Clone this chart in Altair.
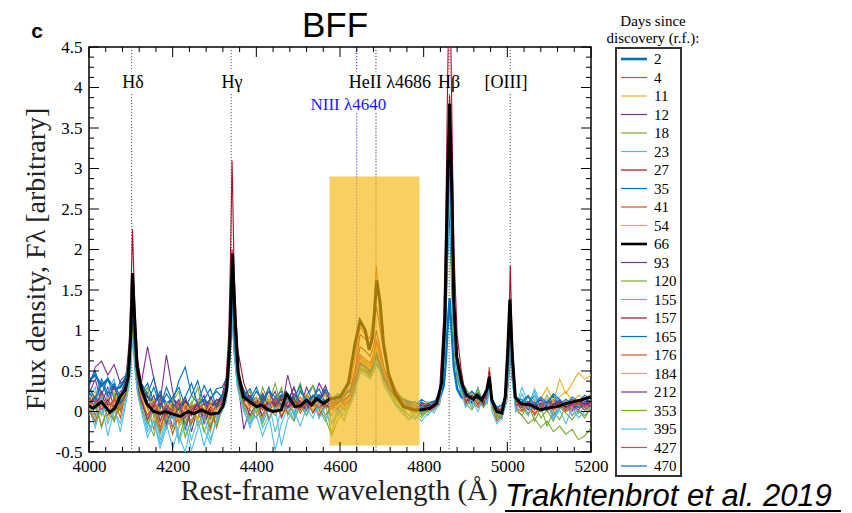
import altair as alt
import pandas as pd

# ---------------------------------------------------------------------------
# Wavelength grid (Angstrom), in stretches around each emission line
# ---------------------------------------------------------------------------
W_A = [4000, 4015, 4030, 4045, 4060, 4075, 4088]
W_HD = [4096, 4100, 4104, 4109, 4116]
W_B = [4125, 4140, 4155, 4170, 4185, 4200, 4215, 4230, 4245, 4260, 4275, 4290, 4305, 4318, 4328]
W_HG = [4334, 4338, 4342, 4347, 4355]
W_C = [4370, 4385, 4400, 4415, 4430, 4445, 4460, 4475, 4490, 4505, 4520, 4535, 4550, 4565, 4580, 4595, 4610, 4625]
W_HE = [4637, 4648, 4660, 4672, 4680, 4687, 4695, 4705, 4718, 4732, 4748, 4765, 4780, 4795, 4810, 4825, 4838]
W_HB = [4848, 4853, 4857, 4862, 4867, 4872, 4880, 4890]
W_D = [4900, 4915, 4930, 4943, 4952, 4957, 4963, 4975, 4987, 4997]
W_O3 = [5003, 5007, 5012, 5020]
W_E = [5035, 5050, 5065, 5080, 5095, 5110, 5125, 5140, 5155, 5170, 5185, 5200]
GRID = [W_A, W_HD, W_B, W_HG, W_C, W_HE, W_HB, W_D, W_O3, W_E]

# ---------------------------------------------------------------------------
# Continuum-subtracted spectra, one list per stretch of the grid
# ---------------------------------------------------------------------------
F_2 = [
    [0.38, 0.45, 0.32, 0.40, 0.28, 0.30, 0.42],
    [0.55, 0.78, 1.13, 0.72, 0.42],
    [0.28, 0.18, 0.12, 0.20, 0.10, 0.15, 0.08, 0.12, 0.05, 0.10, 0.14, 0.08, 0.12, 0.18, 0.30],
    [0.52, 0.92, 1.50, 0.85, 0.45],
    [0.25, 0.16, 0.12, 0.18, 0.10, 0.14, 0.20, 0.12, 0.16, 0.10, 0.18, 0.14, 0.20, 0.12, 0.15, 0.18, 0.22, 0.26],
    [0.34, 0.52, 0.50, 0.45, 0.52, 0.60, 0.52, 0.40, 0.30, 0.22, 0.16, 0.12, 0.10, 0.08, 0.10, 0.12, 0.15],
    [0.32, 0.62, 1.02, 1.40, 0.98, 0.55, 0.28, 0.18],
    [0.14, 0.18, 0.16, 0.12, 0.20, 0.32, 0.14, 0.04, 0.02, 0.12],
    [0.48, 0.95, 0.44, 0.12],
    [0.08, 0.06, 0.10, 0.04, 0.08, 0.12, 0.10, 0.08, 0.14, 0.12, 0.16, 0.18],
]
F_4 = [
    [0.15, -0.05, 0.22, 0.02, -0.12, 0.18, 0.30],
    [0.55, 0.88, 1.40, 0.85, 0.42],
    [0.25, 0.05, -0.22, 0.10, -0.08, 0.12, -0.15, 0.05, -0.05, 0.15, -0.10, 0.02, -0.18, 0.10, 0.28],
    [0.55, 1.02, 1.70, 0.95, 0.45],
    [0.20, 0.05, 0.12, -0.05, 0.15, 0.02, 0.20, 0.08, -0.02, 0.14, 0.05, 0.18, 0.02, 0.12, -0.05, 0.10, 0.15, 0.20],
    [0.42, 0.68, 0.62, 0.58, 0.70, 0.90, 0.72, 0.50, 0.34, 0.20, 0.10, 0.04, 0.02, -0.04, 0.06, 0.02, 0.10],
    [0.75, 1.55, 2.60, 3.60, 2.45, 1.32, 0.65, 0.35],
    [0.10, 0.22, 0.08, 0.15, 0.22, 0.45, 0.12, -0.08, -0.02, 0.15],
    [0.55, 1.10, 0.50, 0.10],
    [0.02, 0.10, -0.05, 0.08, 0.00, 0.12, 0.04, 0.08, 0.02, 0.10, 0.05, 0.12],
]
F_11 = [
    [0.05, 0.20, -0.02, 0.12, 0.25, 0.05, 0.28],
    [0.50, 0.82, 1.30, 0.78, 0.38],
    [0.20, -0.05, 0.08, -0.15, 0.02, -0.08, 0.12, -0.20, 0.05, -0.02, 0.10, -0.12, 0.05, 0.15, 0.25],
    [0.52, 0.98, 1.60, 0.90, 0.42],
    [0.15, 0.10, -0.02, 0.12, 0.05, 0.18, -0.05, 0.10, 0.20, 0.02, 0.12, 0.08, -0.02, 0.15, 0.10, 0.05, 0.12, 0.18],
    [0.38, 0.62, 0.58, 0.52, 0.64, 0.80, 0.66, 0.46, 0.30, 0.22, 0.12, 0.05, 0.08, 0.02, 0.10, 0.05, 0.12],
    [0.72, 1.50, 2.52, 3.50, 2.38, 1.28, 0.62, 0.33],
    [0.18, 0.12, 0.20, 0.08, 0.20, 0.40, 0.10, 0.02, -0.05, 0.12],
    [0.50, 1.00, 0.46, 0.08],
    [0.10, 0.02, 0.12, 0.06, 0.14, 0.00, 0.10, 0.15, 0.05, 0.12, 0.08, 0.14],
]
F_12 = [
    [0.30, 0.55, 0.62, 0.45, 0.58, 0.35, 0.40],
    [0.60, 0.90, 1.45, 0.88, 0.50],
    [0.35, 0.80, 0.40, 0.12, 0.70, 0.25, -0.10, 0.15, -0.25, 0.05, 0.20, -0.08, 0.10, 0.05, 0.22],
    [0.50, 0.98, 1.60, 0.88, 0.40],
    [-0.22, 0.05, 0.18, -0.10, 0.12, 0.25, 0.02, 0.45, 0.15, 0.05, 0.30, 0.12, 0.35, 0.20, 0.05, 0.15, 0.10, 0.22],
    [0.36, 0.60, 0.55, 0.50, 0.60, 0.75, 0.62, 0.44, 0.30, 0.18, 0.08, 0.12, 0.04, 0.10, 0.02, 0.08, 0.12],
    [0.62, 1.28, 2.16, 3.00, 2.05, 1.10, 0.54, 0.30],
    [0.12, 0.20, 0.10, 0.18, 0.15, 0.35, 0.12, 0.05, 0.00, 0.10],
    [0.48, 1.00, 0.45, 0.10],
    [0.05, 0.12, 0.02, 0.10, 0.05, 0.08, 0.15, 0.02, 0.10, 0.05, 0.12, 0.08],
]
F_18 = [
    [0.10, -0.15, 0.05, 0.20, -0.10, 0.12, 0.22],
    [0.45, 0.75, 1.20, 0.70, 0.30],
    [0.15, -0.12, -0.30, 0.05, -0.20, 0.10, -0.35, -0.05, 0.12, -0.18, 0.02, -0.25, 0.08, 0.12, 0.20],
    [0.45, 0.85, 1.40, 0.78, 0.35],
    [0.10, -0.15, 0.05, 0.22, -0.10, 0.08, 0.30, -0.05, 0.15, 0.35, 0.05, 0.20, -0.08, 0.10, -0.28, 0.05, -0.12, 0.15],
    [0.30, 0.55, 0.52, 0.46, 0.56, 0.70, 0.58, 0.40, 0.28, 0.15, 0.05, -0.05, 0.08, -0.02, 0.05, 0.10, 0.18],
    [0.80, 1.90, 2.60, 2.35, 1.45, 0.80, 0.40, 0.22],
    [0.22, 0.05, 0.25, 0.10, 0.15, 0.30, 0.08, -0.10, 0.05, 0.15],
    [0.45, 1.00, 0.42, 0.05],
    [-0.05, 0.10, -0.12, 0.05, -0.18, 0.00, -0.10, 0.08, -0.05, 0.02, -0.08, 0.05],
]
F_23 = [
    [0.05, -0.20, 0.10, -0.30, 0.02, -0.15, 0.15],
    [0.38, 0.62, 1.00, 0.60, 0.25],
    [0.05, -0.25, -0.10, -0.40, -0.15, -0.45, -0.20, -0.05, -0.35, -0.10, -0.42, -0.15, -0.05, 0.02, 0.18],
    [0.45, 0.92, 1.55, 0.85, 0.35],
    [0.05, -0.10, 0.08, -0.20, -0.05, -0.48, -0.15, 0.05, -0.10, 0.12, -0.05, 0.10, 0.02, -0.12, 0.08, -0.05, 0.05, 0.12],
    [0.30, 0.52, 0.48, 0.42, 0.52, 0.65, 0.52, 0.35, 0.22, 0.12, 0.02, -0.05, -0.10, 0.02, -0.05, 0.05, 0.10],
    [0.75, 1.55, 2.35, 2.70, 1.95, 1.05, 0.50, 0.25],
    [0.25, 0.10, 0.30, 0.05, 0.18, 0.28, 0.05, -0.05, -0.10, 0.15],
    [0.52, 1.00, 0.45, 0.05],
    [0.30, 0.10, 0.25, 0.05, 0.20, -0.05, 0.10, 0.02, 0.08, -0.02, 0.05, 0.10],
]
F_27 = [
    [0.15, 0.05, 0.18, 0.08, 0.12, 0.20, 0.40],
    [0.85, 1.42, 2.25, 1.35, 0.65],
    [0.35, 0.18, 0.05, 0.10, -0.05, 0.08, 0.02, 0.12, -0.02, 0.05, 0.10, 0.00, 0.08, 0.20, 0.42],
    [0.95, 1.85, 3.10, 1.70, 0.78],
    [0.35, 0.15, 0.10, 0.05, 0.12, 0.08, 0.15, 0.05, 0.10, 0.12, 0.08, 0.15, 0.10, 0.05, 0.12, 0.10, 0.18, 0.28],
    [0.55, 0.95, 0.90, 0.82, 1.00, 1.30, 1.05, 0.72, 0.45, 0.28, 0.15, 0.08, 0.05, 0.02, 0.08, 0.10, 0.25],
    [1.15, 2.40, 4.00, 5.60, 3.80, 2.02, 0.95, 0.50],
    [0.20, 0.15, 0.22, 0.12, 0.25, 0.50, 0.15, 0.02, 0.00, 0.20],
    [0.90, 1.80, 0.82, 0.15],
    [0.08, 0.05, 0.10, 0.02, 0.08, 0.05, 0.10, 0.06, 0.12, 0.08, 0.15, 0.12],
]
F_35 = [
    [0.35, 0.50, 0.20, 0.42, 0.15, 0.38, 0.45],
    [0.65, 0.85, 1.25, 0.80, 0.45],
    [0.35, 0.22, 0.42, 0.05, 0.30, 0.12, 0.38, 0.55, 0.20, 0.10, 0.32, 0.15, 0.28, 0.30, 0.40],
    [0.55, 1.00, 1.60, 0.92, 0.45],
    [0.20, 0.28, 0.10, 0.22, 0.05, 0.18, 0.25, 0.12, 0.30, 0.08, 0.20, 0.32, 0.15, 0.25, 0.10, 0.18, 0.22, 0.28],
    [0.40, 0.58, 0.55, 0.50, 0.58, 0.72, 0.60, 0.42, 0.30, 0.20, 0.12, 0.10, 0.05, 0.12, 0.06, 0.10, 0.18],
    [0.55, 1.08, 1.82, 2.50, 1.72, 0.92, 0.45, 0.25],
    [0.15, 0.25, 0.18, 0.10, 0.22, 0.38, 0.12, 0.00, 0.05, 0.25],
    [0.65, 1.25, 0.55, 0.12],
    [0.10, 0.18, 0.05, 0.15, 0.08, 0.20, 0.12, 0.05, 0.15, 0.10, 0.08, 0.15],
]
F_41 = [
    [-0.05, 0.12, -0.18, 0.05, 0.15, -0.08, 0.25],
    [0.55, 0.92, 1.50, 0.90, 0.40],
    [0.18, -0.10, 0.02, -0.25, 0.08, -0.05, 0.10, -0.15, 0.00, -0.08, 0.12, -0.20, 0.02, 0.08, 0.25],
    [0.58, 1.08, 1.80, 1.00, 0.45],
    [0.12, -0.05, 0.08, 0.15, -0.10, 0.05, 0.12, -0.02, 0.08, 0.18, 0.02, 0.10, -0.05, 0.08, 0.02, 0.12, 0.20, 0.35],
    [0.70, 1.05, 0.95, 0.90, 1.20, 1.80, 1.20, 0.75, 0.45, 0.25, 0.12, 0.05, 0.02, 0.00, 0.05, 0.08, 0.15],
    [0.80, 1.68, 2.82, 3.90, 2.65, 1.42, 0.68, 0.36],
    [0.12, 0.20, 0.08, 0.15, 0.28, 0.55, 0.15, -0.05, -0.08, 0.12],
    [0.60, 1.20, 0.55, 0.10],
    [0.05, -0.02, 0.08, 0.02, 0.10, -0.05, 0.05, 0.10, 0.00, 0.08, 0.02, 0.06],
]
F_54 = [
    [0.20, 0.02, 0.15, -0.10, 0.08, 0.22, 0.32],
    [0.58, 0.90, 1.40, 0.85, 0.42],
    [0.22, 0.02, -0.12, 0.08, -0.02, 0.15, -0.18, 0.02, 0.10, -0.10, 0.05, -0.05, 0.12, 0.10, 0.28],
    [0.55, 1.02, 1.70, 0.95, 0.45],
    [0.18, 0.08, 0.15, 0.02, 0.20, 0.10, 0.05, 0.18, 0.08, 0.12, 0.22, 0.05, 0.15, 0.08, 0.12, 0.18, 0.10, 0.20],
    [0.42, 0.70, 0.65, 0.58, 0.68, 0.85, 0.70, 0.50, 0.35, 0.22, 0.12, 0.08, 0.05, 0.10, 0.02, 0.08, 0.14],
    [0.76, 1.58, 2.68, 3.70, 2.52, 1.35, 0.66, 0.35],
    [0.15, 0.22, 0.10, 0.18, 0.20, 0.42, 0.10, 0.00, -0.02, 0.15],
    [0.55, 1.10, 0.50, 0.10],
    [0.12, 0.05, 0.15, 0.08, 0.20, 0.10, 0.18, 0.25, 0.12, 0.20, 0.15, 0.22],
]
F_93 = [
    [0.22, 0.40, 0.10, 0.30, 0.05, 0.25, 0.30],
    [0.52, 0.82, 1.30, 0.80, 0.40],
    [0.25, 0.05, 0.20, -0.12, 0.10, -0.20, 0.05, 0.18, -0.05, 0.12, -0.15, 0.05, 0.15, 0.10, 0.25],
    [0.50, 0.92, 1.50, 0.85, 0.40],
    [0.15, -0.05, 0.10, 0.22, 0.05, 0.15, -0.08, 0.12, 0.30, 0.05, 0.18, -0.02, 0.10, 0.25, 0.08, 0.02, 0.15, 0.20],
    [0.40, 0.62, 0.58, 0.52, 0.62, 0.75, 0.62, 0.45, 0.30, 0.18, 0.10, 0.05, 0.08, 0.00, 0.05, 0.12, 0.15],
    [0.66, 1.36, 2.30, 3.20, 2.18, 1.17, 0.57, 0.31],
    [0.10, 0.18, 0.12, 0.20, 0.18, 0.40, 0.10, 0.02, 0.05, 0.18],
    [0.50, 1.00, 0.45, 0.08],
    [0.10, 0.02, 0.12, 0.05, 0.08, 0.15, 0.05, 0.10, 0.02, 0.12, 0.08, 0.10],
]
F_120 = [
    [0.08, 0.20, -0.05, 0.15, 0.22, 0.02, 0.25],
    [0.48, 0.78, 1.20, 0.72, 0.35],
    [0.15, 0.30, -0.08, 0.20, -0.22, 0.12, 0.25, -0.15, 0.08, 0.30, -0.05, 0.15, -0.10, 0.12, 0.22],
    [0.48, 0.88, 1.45, 0.80, 0.38],
    [0.15, 0.25, -0.02, 0.30, 0.10, 0.35, 0.05, 0.20, -0.05, 0.28, 0.12, 0.32, 0.08, 0.22, -0.15, -0.05, 0.08, 0.15],
    [0.32, 0.55, 0.52, 0.48, 0.58, 0.70, 0.58, 0.40, 0.30, 0.15, 0.18, 0.05, 0.12, -0.05, 0.02, 0.10, 0.15],
    [0.62, 1.28, 2.16, 3.00, 2.05, 1.10, 0.54, 0.30],
    [0.30, 0.15, 0.28, 0.10, 0.18, 0.35, 0.08, -0.05, 0.02, 0.20],
    [0.48, 0.95, 0.42, 0.10],
    [0.05, -0.05, 0.10, -0.08, 0.02, -0.12, 0.05, -0.02, -0.10, 0.00, -0.05, 0.05],
]
F_155 = [
    [0.15, 0.30, -0.05, 0.25, 0.40, 0.10, 0.20],
    [0.42, 0.70, 1.10, 0.65, 0.28],
    [0.08, -0.20, 0.05, -0.35, -0.10, 0.02, -0.30, -0.50, -0.15, 0.05, -0.22, -0.40, -0.08, 0.05, 0.20],
    [0.42, 0.85, 1.40, 0.75, 0.30],
    [0.02, -0.20, 0.05, -0.10, 0.10, -0.25, 0.02, 0.15, -0.05, 0.10, 0.00, 0.18, -0.08, 0.05, 0.12, -0.02, 0.08, 0.15],
    [0.30, 0.50, 0.48, 0.42, 0.50, 0.65, 0.52, 0.36, 0.25, 0.10, 0.00, 0.05, -0.08, 0.00, 0.05, -0.02, 0.12],
    [0.58, 1.20, 2.02, 2.80, 1.90, 1.02, 0.50, 0.26],
    [0.18, 0.05, 0.20, 0.12, 0.10, 0.33, 0.05, -0.10, 0.00, 0.15],
    [0.45, 0.90, 0.40, 0.05],
    [0.22, 0.05, 0.28, 0.10, 0.15, -0.08, 0.05, 0.12, -0.05, 0.08, 0.02, 0.10],
]
F_157 = [
    [0.10, 0.18, 0.05, 0.15, 0.02, 0.12, 0.30],
    [0.62, 1.00, 1.60, 0.95, 0.45],
    [0.25, 0.08, -0.02, 0.10, 0.02, -0.08, 0.05, 0.12, 0.00, 0.08, -0.05, 0.05, 0.10, 0.15, 0.32],
    [0.65, 1.20, 2.00, 1.12, 0.52],
    [0.22, 0.10, 0.05, 0.12, 0.02, 0.10, 0.15, 0.05, 0.12, 0.08, 0.02, 0.10, 0.15, 0.08, 0.05, 0.12, 0.15, 0.22],
    [0.48, 0.80, 0.75, 0.68, 0.80, 1.00, 0.80, 0.55, 0.36, 0.22, 0.12, 0.08, 0.02, 0.05, 0.08, 0.05, 0.18],
    [0.80, 1.68, 2.82, 3.90, 2.65, 1.42, 0.68, 0.36],
    [0.15, 0.12, 0.20, 0.10, 0.25, 0.50, 0.15, 0.00, -0.02, 0.18],
    [0.70, 1.40, 0.62, 0.12],
    [0.08, 0.12, 0.05, 0.10, 0.02, 0.08, 0.12, 0.05, 0.10, 0.15, 0.08, 0.12],
]
F_165 = [
    [0.25, 0.10, 0.35, 0.18, 0.30, 0.12, 0.35],
    [0.52, 0.80, 1.20, 0.75, 0.40],
    [0.22, 0.35, 0.10, 0.25, 0.02, 0.18, 0.30, 0.05, 0.20, 0.38, 0.08, 0.15, 0.25, 0.18, 0.30],
    [0.52, 0.95, 1.50, 0.88, 0.42],
    [0.18, 0.10, 0.25, 0.12, 0.30, 0.05, 0.20, 0.15, 0.08, 0.25, 0.12, 0.18, 0.28, 0.10, 0.15, 0.22, 0.12, 0.20],
    [0.38, 0.58, 0.55, 0.50, 0.55, 0.68, 0.56, 0.40, 0.28, 0.18, 0.10, 0.12, 0.08, 0.15, 0.10, 0.05, 0.15],
    [0.62, 1.28, 2.16, 3.00, 2.05, 1.10, 0.54, 0.30],
    [0.20, 0.10, 0.22, 0.15, 0.18, 0.38, 0.10, 0.05, 0.08, 0.22],
    [0.68, 1.30, 0.58, 0.15],
    [0.15, 0.10, 0.20, 0.05, 0.12, 0.18, 0.08, 0.15, 0.10, 0.05, 0.12, 0.18],
]
F_176 = [
    [0.02, -0.12, 0.10, -0.05, 0.18, 0.00, 0.22],
    [0.48, 0.80, 1.30, 0.78, 0.35],
    [0.12, -0.05, 0.10, -0.20, 0.00, -0.28, -0.02, 0.08, -0.15, 0.05, -0.05, 0.10, -0.20, 0.05, 0.22],
    [0.50, 0.95, 1.60, 0.88, 0.40],
    [0.10, 0.02, -0.08, 0.10, 0.00, 0.12, -0.05, 0.05, 0.15, -0.02, 0.10, 0.00, 0.12, -0.05, 0.05, 0.10, 0.02, 0.15],
    [0.38, 0.65, 0.60, 0.55, 0.66, 0.85, 0.70, 0.48, 0.32, 0.18, 0.08, 0.02, -0.02, 0.05, 0.00, 0.05, 0.10],
    [0.70, 1.45, 2.45, 3.40, 2.32, 1.24, 0.60, 0.32],
    [0.08, 0.15, 0.05, 0.12, 0.20, 0.42, 0.08, -0.12, -0.05, 0.10],
    [0.52, 1.05, 0.48, 0.05],
    [0.00, 0.08, -0.02, 0.05, 0.10, 0.02, 0.08, 0.00, 0.05, 0.10, 0.02, 0.08],
]
F_184 = [
    [0.12, 0.25, 0.05, 0.18, -0.02, 0.15, 0.25],
    [0.45, 0.75, 1.20, 0.72, 0.35],
    [0.18, 0.05, 0.15, -0.05, 0.12, 0.02, -0.10, 0.10, 0.00, 0.15, -0.05, 0.08, 0.00, 0.12, 0.25],
    [0.48, 0.90, 1.50, 0.85, 0.40],
    [0.12, 0.05, 0.18, 0.08, 0.15, 0.00, 0.12, 0.20, 0.05, 0.10, 0.18, 0.02, 0.12, 0.20, 0.08, 0.15, 0.05, 0.18],
    [0.38, 0.62, 0.58, 0.52, 0.62, 0.78, 0.65, 0.48, 0.33, 0.20, 0.12, 0.08, 0.10, 0.05, 0.12, 0.08, 0.12],
    [0.68, 1.40, 2.38, 3.30, 2.25, 1.20, 0.58, 0.32],
    [0.15, 0.20, 0.12, 0.18, 0.25, 0.45, 0.15, 0.02, 0.05, 0.15],
    [0.50, 1.00, 0.45, 0.10],
    [0.12, 0.20, 0.08, 0.15, 0.30, 0.12, 0.40, 0.22, 0.35, 0.48, 0.40, 0.45],
]
F_212 = [
    [0.18, 0.05, 0.25, 0.10, 0.32, 0.08, 0.22],
    [0.42, 0.70, 1.10, 0.68, 0.32],
    [0.12, -0.10, 0.08, 0.20, -0.15, 0.05, 0.15, -0.22, 0.02, 0.10, -0.08, 0.18, 0.05, 0.10, 0.22],
    [0.45, 0.85, 1.40, 0.78, 0.38],
    [0.12, 0.20, 0.05, 0.15, 0.25, 0.08, 0.18, 0.05, 0.22, 0.12, 0.02, 0.20, 0.15, 0.32, 0.10, 0.18, 0.08, 0.15],
    [0.35, 0.58, 0.55, 0.48, 0.58, 0.70, 0.58, 0.42, 0.28, 0.20, 0.10, 0.08, 0.02, 0.10, 0.05, 0.08, 0.12],
    [0.64, 1.32, 2.24, 3.10, 2.12, 1.13, 0.55, 0.30],
    [0.12, 0.20, 0.15, 0.08, 0.20, 0.38, 0.12, 0.05, 0.00, 0.18],
    [0.48, 0.95, 0.42, 0.08],
    [0.05, 0.12, 0.08, 0.15, 0.02, 0.10, 0.05, 0.12, 0.08, 0.02, 0.10, 0.06],
]
F_353 = [
    [-0.05, 0.10, -0.20, 0.05, -0.12, 0.08, 0.15],
    [0.38, 0.62, 1.00, 0.60, 0.25],
    [0.05, -0.15, 0.02, -0.28, -0.05, -0.20, 0.05, -0.32, -0.10, 0.02, -0.25, -0.05, -0.18, 0.02, 0.15],
    [0.40, 0.78, 1.30, 0.72, 0.30],
    [0.05, -0.08, 0.10, -0.15, 0.05, -0.05, 0.12, 0.00, -0.12, 0.08, -0.05, 0.15, 0.02, -0.08, -0.30, -0.10, 0.00, 0.10],
    [0.28, 0.52, 0.50, 0.42, 0.52, 0.65, 0.52, 0.35, 0.25, 0.10, 0.02, -0.10, 0.00, -0.08, 0.02, 0.08, 0.12],
    [0.60, 1.24, 2.10, 2.90, 1.98, 1.06, 0.52, 0.28],
    [0.10, 0.02, 0.15, 0.05, 0.12, 0.30, 0.05, -0.08, -0.05, 0.12],
    [0.45, 0.90, 0.40, 0.02],
    [-0.05, -0.15, -0.08, -0.20, -0.12, -0.25, -0.18, -0.28, -0.22, -0.35, -0.30, -0.20],
]
F_395 = [
    [0.10, -0.08, 0.20, -0.15, 0.05, -0.25, 0.10],
    [0.32, 0.55, 0.90, 0.55, 0.22],
    [0.00, -0.32, -0.12, -0.45, -0.20, -0.05, -0.38, -0.15, -0.48, -0.22, -0.05, -0.35, -0.12, 0.00, 0.12],
    [0.38, 0.78, 1.30, 0.72, 0.28],
    [0.00, -0.15, -0.05, -0.30, -0.10, 0.05, -0.42, -0.10, 0.02, -0.18, 0.05, -0.08, 0.10, -0.05, -0.12, 0.02, -0.05, 0.08],
    [0.25, 0.48, 0.45, 0.40, 0.48, 0.62, 0.50, 0.32, 0.20, 0.08, -0.02, -0.10, -0.05, -0.12, -0.02, 0.02, 0.08],
    [0.56, 1.15, 1.95, 2.70, 1.84, 0.98, 0.48, 0.25],
    [0.05, 0.15, 0.00, 0.18, 0.10, 0.30, 0.00, -0.15, -0.08, 0.10],
    [0.45, 0.90, 0.40, 0.00],
    [0.15, -0.05, 0.20, 0.00, 0.12, -0.10, 0.02, -0.15, 0.05, -0.08, 0.00, 0.05],
]
F_427 = [
    [0.08, 0.15, 0.02, 0.12, 0.05, 0.18, 0.30],
    [0.55, 0.90, 1.40, 0.85, 0.40],
    [0.22, 0.05, 0.12, -0.05, 0.08, 0.00, 0.12, -0.08, 0.05, 0.10, 0.02, -0.05, 0.08, 0.12, 0.30],
    [0.58, 1.08, 1.80, 1.00, 0.45],
    [0.18, 0.08, 0.12, 0.02, 0.10, 0.15, 0.05, 0.12, 0.08, 0.02, 0.15, 0.10, 0.05, 0.12, 0.08, 0.15, 0.12, 0.20],
    [0.42, 0.70, 0.65, 0.60, 0.70, 0.88, 0.72, 0.50, 0.34, 0.20, 0.12, 0.05, 0.08, 0.02, 0.05, 0.10, 0.15],
    [0.75, 1.55, 2.60, 3.60, 2.45, 1.32, 0.65, 0.35],
    [0.12, 0.18, 0.10, 0.15, 0.22, 0.45, 0.12, -0.02, 0.02, 0.15],
    [0.60, 1.20, 0.55, 0.10],
    [0.05, 0.10, 0.02, 0.08, 0.12, 0.05, 0.10, 0.02, 0.08, 0.12, 0.05, 0.10],
]
F_470 = [
    [0.30, 0.15, 0.40, 0.22, 0.35, 0.18, 0.38],
    [0.55, 0.82, 1.20, 0.78, 0.42],
    [0.25, 0.12, 0.30, 0.05, 0.22, 0.10, 0.02, 0.18, 0.35, 0.08, 0.15, 0.28, 0.05, 0.20, 0.32],
    [0.55, 0.98, 1.55, 0.90, 0.45],
    [0.22, 0.15, 0.30, 0.10, 0.25, 0.18, 0.08, 0.22, 0.15, 0.32, 0.10, 0.20, 0.12, 0.28, 0.18, 0.10, 0.20, 0.25],
    [0.40, 0.60, 0.56, 0.50, 0.58, 0.72, 0.60, 0.44, 0.30, 0.20, 0.15, 0.08, 0.12, 0.05, 0.10, 0.12, 0.18],
    [0.66, 1.36, 2.30, 3.20, 2.18, 1.17, 0.57, 0.31],
    [0.18, 0.25, 0.15, 0.20, 0.22, 0.40, 0.12, 0.05, 0.08, 0.20],
    [0.62, 1.20, 0.55, 0.15],
    [0.12, 0.20, 0.08, 0.18, 0.10, 0.22, 0.15, 0.08, 0.18, 0.12, 0.20, 0.15],
]

# The day-66 spectrum, sampled on its own grid
W_66 = [4000, 4010, 4030, 4050, 4062, 4074, 4086, 4094, 4100, 4104,
        4110, 4115, 4126, 4138, 4154, 4170, 4182, 4194, 4218, 4237,
        4250, 4269, 4289, 4309, 4320, 4329, 4336, 4343, 4349, 4357,
        4369, 4385, 4401, 4413, 4425, 4440, 4460, 4472, 4480, 4492,
        4505, 4520, 4532, 4544, 4560, 4574, 4600, 4620, 4636, 4648,
        4660, 4670, 4678, 4688, 4696, 4704, 4716, 4732, 4752, 4776,
        4791, 4815, 4831, 4843, 4851, 4857, 4862, 4868, 4872, 4879,
        4891, 4903, 4919, 4927, 4939, 4951, 4957, 4963, 4975, 4987,
        4995, 5001, 5006, 5012, 5019, 5031, 5055, 5079, 5094, 5118,
        5142, 5174, 5200]
F_66 = [0.07, 0.04, 0.12, -0.01, 0.04, 0.18, 0.26, 0.43, 0.97, 1.71,
        1.05, 0.55, 0.27, 0.10, 0.00, -0.02, 0.00, -0.02, -0.06, 0.00,
        -0.03, 0.02, -0.03, -0.02, 0.06, 0.27, 0.76, 1.95, 1.17, 0.47,
        0.18, 0.12, 0.06, 0.08, 0.03, 0.00, 0.02, 0.22, 0.16, 0.06,
        0.07, 0.14, 0.08, 0.16, 0.10, 0.15, 0.18, 0.35, 0.84, 1.12,
        1.01, 0.76, 0.92, 1.62, 1.34, 0.84, 0.47, 0.22, 0.06, 0.02,
        0.02, 0.04, 0.10, 0.35, 1.17, 2.82, 3.80, 2.61, 1.38, 0.68,
        0.35, 0.20, 0.15, 0.20, 0.14, 0.27, 0.43, 0.14, 0.00, -0.02,
        0.18, 0.76, 1.38, 0.68, 0.18, 0.10, 0.08, 0.02, 0.04, 0.06,
        0.10, 0.14, 0.18]

DAYS = ["2", "4", "11", "12", "18", "23", "27", "35", "41", "54", "66", "93",
        "120", "155", "157", "165", "176", "184", "212", "353", "395", "427", "470"]
SERIES = [F_2, F_4, F_11, F_12, F_18, F_23, F_27, F_35, F_41, F_54, None, F_93,
          F_120, F_155, F_157, F_165, F_176, F_184, F_212, F_353, F_395, F_427, F_470]

BLUE, ORANGE, YELLOW, PURPLE = "#0072BD", "#D95319", "#EDB120", "#7E2F8E"
GREEN, CYAN, WINE = "#77AC30", "#4DBEEE", "#A2142F"
COLORS = [BLUE, ORANGE, YELLOW, PURPLE, GREEN, CYAN, WINE, BLUE, ORANGE, YELLOW,
          "#000000", PURPLE, GREEN, CYAN, WINE, BLUE, ORANGE, YELLOW, PURPLE,
          GREEN, CYAN, "#C8475A", BLUE]
THICK = ["2", "66"]

# Emission-line markers and labels
MARK_WAVE = [4102, 4340, 4640, 4686, 4861, 5007]
MARK_COLOR = ["#555555", "#555555", "#2222EE", "#333333", "#555555", "#555555"]
LABEL_TEXT = ["Hδ", "Hγ", "HeII λ4686", "Hβ", "[OIII]"]
LABEL_WAVE = [4105, 4342, 4719, 4861, 4997]
NIII_TEXT = "NIII λ4640"
NIII_WAVE = 4620

# Highlighted HeII/NIII window
BOX_WAVE = [4575, 4790]
BOX_FLUX = [-0.42, 2.9]

X_DOMAIN = [4000, 5200]
Y_DOMAIN = [-0.5, 4.5]
X_MAJOR = list(range(4000, 5201, 200))
X_MINOR = [v for v in range(4000, 5201, 40) if v % 200]
Y_MAJOR = [-0.5 + 0.5 * k for k in range(11)]
Y_MINOR = [-0.5 + 0.125 * k for k in range(41) if k % 4]

W, H = 502, 405
SERIF = "Liberation Serif"

# ---------------------------------------------------------------------------
rows = []
for day, spec in zip(DAYS, SERIES):
    if spec is None:
        continue
    for waves, vals in zip(GRID, spec):
        for w, f in zip(waves, vals):
            rows.append({"wave": w, "flux": f, "day": day})
spectra = pd.DataFrame(rows)
black = pd.DataFrame({"wave": W_66, "flux": F_66, "day": "66"})

xs = alt.Scale(domain=X_DOMAIN, nice=False, zero=False)
ys = alt.Scale(domain=Y_DOMAIN, nice=False, zero=False)
cs = alt.Scale(domain=DAYS, range=COLORS)
x_axis = alt.Axis(values=X_MAJOR, format="d", tickSize=0, domain=False, grid=False,
                  title=None, labelFont=SERIF, labelFontSize=17, labelColor="black",
                  labelPadding=6, labelFlush=False, labelOverlap=False)
y_axis = alt.Axis(values=Y_MAJOR, tickSize=0, domain=False, grid=False, title=None,
                  labelFont=SERIF, labelFontSize=17, labelColor="black", labelPadding=7,
                  labelFlush=False, labelOverlap=False,
                  labelExpr="datum.value < 0 ? '-' + format(-datum.value, '~g') : format(datum.value, '~g')")


def X(field):
    return alt.X(field, type="quantitative", scale=xs, axis=x_axis)


def Y(field):
    return alt.Y(field, type="quantitative", scale=ys, axis=y_axis)


# dotted line markers, broken where the labels sit
seg_rows = []
for w, c in zip(MARK_WAVE, MARK_COLOR):
    low_top = 3.68 if w in (4640, 4686) else 3.92
    seg_rows.append({"wave": w, "y1": 4.5, "y2": 4.2, "c": c})
    seg_rows.append({"wave": w, "y1": low_top, "y2": -0.5, "c": c})
markers = alt.Chart(pd.DataFrame(seg_rows)).mark_rule(
    strokeDash=[1.2, 1.8], strokeWidth=1
).encode(x=X("wave"), y=Y("y1"), y2="y2", color=alt.Color("c:N", scale=None))

thick_blue = alt.Chart(spectra[spectra["day"] == "2"]).mark_line(
    clip=True, strokeWidth=2.4
).encode(x=X("wave"), y=Y("flux"), color=alt.Color("day:N", scale=cs, legend=None))

thin = alt.Chart(spectra[spectra["day"] != "2"]).mark_line(
    clip=True, strokeWidth=1.1
).encode(x=X("wave"), y=Y("flux"), color=alt.Color("day:N", scale=cs, legend=None),
         detail="day:N")

black_line = alt.Chart(black).mark_line(clip=True, strokeWidth=3).encode(
    x=X("wave"), y=Y("flux"), color=alt.Color("day:N", scale=cs, legend=None))

box = alt.Chart(pd.DataFrame({"x1": [BOX_WAVE[0]], "x2": [BOX_WAVE[1]],
                              "y1": [BOX_FLUX[0]], "y2": [BOX_FLUX[1]]})).mark_rect(
    color="#F3B80F", opacity=0.66
).encode(x=X("x1"), x2="x2", y=Y("y1"), y2="y2")

labels = alt.Chart(pd.DataFrame({"wave": LABEL_WAVE, "t": LABEL_TEXT})).mark_text(
    font=SERIF, fontSize=18, baseline="alphabetic", align="center", color="black"
).encode(x=X("wave"), y=alt.value(41), text="t:N")

niii = alt.Chart(pd.DataFrame({"wave": [NIII_WAVE], "t": [NIII_TEXT]})).mark_text(
    font=SERIF, fontSize=17, baseline="alphabetic", align="center", color="#1a1aff"
).encode(x=X("wave"), y=alt.value(63), text="t:N")


def xticks(vals, length):
    d = pd.DataFrame({"t": vals})
    bottom = alt.Chart(d).mark_rule(color="black", strokeWidth=1).encode(
        x=X("t"), y=alt.value(H), y2=alt.value(H - length))
    top = alt.Chart(d).mark_rule(color="black", strokeWidth=1).encode(
        x=X("t"), y=alt.value(0), y2=alt.value(length))
    return [bottom, top]


def yticks(vals, length):
    d = pd.DataFrame({"t": vals})
    left = alt.Chart(d).mark_rule(color="black", strokeWidth=1).encode(
        y=Y("t"), x=alt.value(0), x2=alt.value(length))
    right = alt.Chart(d).mark_rule(color="black", strokeWidth=1).encode(
        y=Y("t"), x=alt.value(W), x2=alt.value(W - length))
    return [left, right]


one = pd.DataFrame({"a": [0]})
title = alt.Chart(one).mark_text(font="Liberation Sans", fontSize=35, baseline="alphabetic",
                                 align="center", color="black").encode(
    x=alt.value(246), y=alt.value(-10), text=alt.value("BFF"))
panel = alt.Chart(one).mark_text(font="Liberation Sans", fontSize=21, fontWeight="bold",
                                 baseline="alphabetic", align="center", color="black").encode(
    x=alt.value(-52), y=alt.value(-9), text=alt.value("c"))
xtitle = alt.Chart(one).mark_text(font=SERIF, fontSize=29, baseline="alphabetic",
                                  align="center", color="#222222").encode(
    x=alt.value(250), y=alt.value(453), text=alt.value("Rest-frame wavelength (Å)"))
ytitle = alt.Chart(one).mark_text(font=SERIF, fontSize=28, baseline="middle", angle=270,
                                  align="center", color="#222222").encode(
    x=alt.value(-52), y=alt.value(212), text=alt.value("Flux density, Fλ  [arbitrary]"))
credit = alt.Chart(one).mark_text(font="Liberation Sans", fontSize=31, fontStyle="italic",
                                  baseline="alphabetic", align="left", color="black").encode(
    x=alt.value(416), y=alt.value(459), text=alt.value("Trakhtenbrot et al. 2019"))
underline = alt.Chart(one).mark_rule(color="black", strokeWidth=2).encode(
    x=alt.value(416), x2=alt.value(752), y=alt.value(464))

plot = alt.layer(
    markers, thick_blue, thin, black_line, box, labels, niii,
    *xticks(X_MAJOR, 10), *xticks(X_MINOR, 5),
    *yticks(Y_MAJOR, 10), *yticks(Y_MINOR, 5),
    title, panel, xtitle, ytitle, credit, underline,
)

# ---------------------------------------------------------------------------
# Legend: days since discovery
# ---------------------------------------------------------------------------
leg = pd.DataFrame({"day": DAYS, "idx": list(range(len(DAYS)))})
leg["w"] = [2.6 if d in THICK else 1.2 for d in DAYS]
ly = alt.Scale(domain=[0, 1], range=[12, 30.5], nice=False, zero=False)
leg_lines = alt.Chart(leg).mark_rule().encode(
    x=alt.value(532), x2=alt.value(558),
    y=alt.Y("idx:Q", scale=ly, axis=None),
    color=alt.Color("day:N", scale=cs, legend=None),
    strokeWidth=alt.StrokeWidth("w:Q", scale=None))
leg_text = alt.Chart(leg).mark_text(font=SERIF, fontSize=15, align="left",
                                    baseline="middle", color="black").encode(
    x=alt.value(565), y=alt.Y("idx:Q", scale=ly, axis=None), text="day:N")
leg_box = alt.Chart(one).mark_rect(fillOpacity=0, stroke="#333333", strokeWidth=2).encode(
    x=alt.value(527), x2=alt.value(592), y=alt.value(1), y2=alt.value(429))
leg_t1 = alt.Chart(one).mark_text(font=SERIF, fontSize=15, align="center",
                                  baseline="middle", color="black").encode(
    x=alt.value(564), y=alt.value(-26), text=alt.value("Days since"))
leg_t2 = alt.Chart(one).mark_text(font=SERIF, fontSize=15, align="center",
                                  baseline="middle", color="black").encode(
    x=alt.value(564), y=alt.value(-9), text=alt.value("discovery (r.f.):"))
legend = alt.layer(leg_box, leg_lines, leg_text, leg_t1, leg_t2)

chart = alt.layer(plot, legend).resolve_scale(y="independent").properties(
    width=W, height=H,
    padding={"left": 89, "top": 47, "right": 261, "bottom": 61},
    autosize=alt.AutoSizeParams(type="none"),
    background="white",
).configure_view(stroke="black", strokeWidth=1.5)

chart.save("out.html", embed_options={"renderer": "svg", "actions": False})
